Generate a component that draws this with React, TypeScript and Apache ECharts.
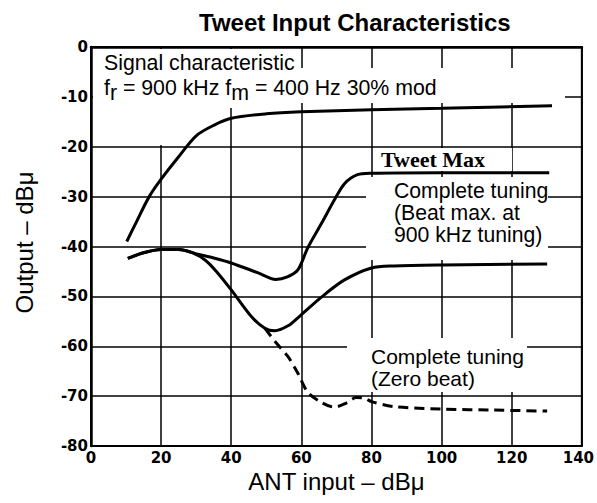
import React, { useEffect, useRef } from 'react';
import * as echarts from 'echarts';

// ---- data ----
const xTickValues = [0, 20, 40, 60, 80, 100, 120, 140];
const yTickValues = [0, -10, -20, -30, -40, -50, -60, -70, -80];

// Signal characteristic curve
const signalCurve: number[][] = [
  [10.2, -39], [13, -35], [16.6, -30], [20, -26.5], [25, -22], [30, -17.8],
  [35, -15.7], [40, -14.3], [50, -13.4], [60, -13], [80, -12.6], [100, -12.3], [131.5, -11.8],
];

// Complete tuning (Beat max. at 900 kHz tuning)
const beatMaxCurve: number[][] = [
  [10.5, -42.4], [14.7, -41.3], [20, -40.6], [25, -40.6], [30.8, -41.6], [35, -42.3],
  [40, -43.3], [47.7, -45.3], [52.7, -46.6], [56, -46.1], [59, -44.7], [61.8, -40.3],
  [65.8, -35.3], [69.4, -30.7], [72.3, -27.4], [76, -25.6], [80, -25.3], [100, -25.2], [130.7, -25.2],
];

// Complete tuning (Zero beat) - solid branch
const zeroBeatCurve: number[][] = [
  [10.5, -42.4], [14.7, -41.3], [20, -40.6], [25, -40.6], [29, -41.3], [32.7, -42.8],
  [36, -45.2], [40, -48.7], [45.8, -54.1], [49.6, -56.4], [52.4, -56.9], [56.2, -55.9],
  [59, -54.3], [65.8, -50.1], [72.3, -46.7], [80, -44.3], [86.4, -43.9], [100, -43.7], [130.1, -43.5],
];

// Complete tuning (Zero beat) - dashed branch
const zeroBeatDashed: number[][] = [
  [49.6, -56.4], [52.8, -59.3], [56.2, -62.1], [59, -65.4], [61.8, -69.2], [65.8, -71.3],
  [69.4, -72.2], [73.1, -71.3], [75.6, -70.3], [77.9, -70.4], [80, -71.1], [86.4, -72.1],
  [100.5, -72.6], [114.6, -72.8], [130.1, -73],
];

const SANS = '"Liberation Sans", Arial, Helvetica, sans-serif';
const SERIF = '"Liberation Serif", "Times New Roman", serif';
const TICKFONT = '"DejaVu Sans", sans-serif';

function maskRect(x: number, y: number, w: number, h: number) {
  return {
    type: 'rect',
    silent: true,
    z: 1,
    shape: { x, y, width: w, height: h },
    style: { fill: '#fff' },
  };
}

export default function App() {
  const ref = useRef<HTMLDivElement>(null);

  useEffect(() => {
    const chart = echarts.init(ref.current!, null, { renderer: 'svg' });

    const lineBase = {
      type: 'line',
      showSymbol: false,
      symbol: 'none',
      smooth: 0.3,
      z: 2,
      lineStyle: { color: '#000', width: 3 },
    };

    const option: any = {
      animation: false,
      backgroundColor: '#fff',
      title: {
        text: 'Tweet Input Characteristics',
        left: 199,
        top: 10,
        padding: 0,
        textStyle: { fontFamily: SANS, fontSize: 24, fontWeight: 'bold', color: '#000', lineHeight: 24 },
      },
      grid: {
        left: 91,
        right: 10,
        top: 47,
        bottom: 57,
        show: true,
        borderColor: '#000',
        borderWidth: 2,
        backgroundColor: 'transparent',
      },
      xAxis: {
        type: 'value',
        min: xTickValues[0],
        max: xTickValues[xTickValues.length - 1],
        interval: 20,
        name: 'ANT input – dBμ',
        nameLocation: 'middle',
        nameGap: 19,
        nameTextStyle: { fontFamily: SANS, fontSize: 24, color: '#000', lineHeight: 24 },
        axisLine: { show: true, lineStyle: { color: '#000', width: 2.5 } },
        axisTick: { show: false },
        splitLine: { show: true, lineStyle: { color: '#000', width: 1.5 } },
        axisLabel: {
          margin: 4,
          fontFamily: TICKFONT,
          fontWeight: 'bold',
          fontSize: 15,
          color: '#000',
          formatter: (v: number) => (v === 140 ? '{e|' + v + '}' : String(v)),
          rich: {
            e: { fontFamily: TICKFONT, fontWeight: 'bold', fontSize: 15, color: '#000', padding: [0, 7, 0, 0] },
          },
        },
      },
      yAxis: {
        type: 'value',
        min: yTickValues[yTickValues.length - 1],
        max: yTickValues[0],
        interval: 10,
        name: 'Output – dBμ',
        nameLocation: 'middle',
        nameGap: 55,
        nameTextStyle: { fontFamily: SANS, fontSize: 24, color: '#000', lineHeight: 24, padding: [0, 0, 0, 8] },
        axisLine: { show: true, lineStyle: { color: '#000', width: 2.5 } },
        axisTick: { show: false },
        splitLine: { show: true, lineStyle: { color: '#000', width: 1.5 } },
        axisLabel: {
          margin: 3,
          fontFamily: TICKFONT,
          fontWeight: 'bold',
          fontSize: 15,
          color: '#000',
        },
      },
      series: [
        { ...lineBase, name: 'Signal characteristic', data: signalCurve },
        { ...lineBase, name: 'Complete tuning (Beat max.)', data: beatMaxCurve },
        { ...lineBase, name: 'Complete tuning (Zero beat)', data: zeroBeatCurve },
        {
          ...lineBase,
          name: 'Complete tuning (Zero beat) dashed',
          data: zeroBeatDashed,
          lineStyle: { color: '#000', width: 3, type: [10, 6] },
        },
      ],
      graphic: {
        elements: [
          maskRect(93, 49, 204, 59),
          maskRect(297, 68, 268, 35),
          maskRect(155, 108, 14, 37),
          maskRect(379, 148, 133, 23),
          maskRect(366, 177, 182, 83),
          maskRect(347, 338, 180, 54),
          {
            type: 'text',
            z: 3,
            silent: true,
            style: {
              x: 104,
              y: 52,
              verticalAlign: 'top',
              text: '{n|Signal characteristic}\n{n|f}{s|r}{n| = 900 kHz f}{s|m}{n| = 400 Hz 30% mod}',
              fill: '#000',
              fontFamily: SANS,
              fontSize: 21.3,
              rich: {
                n: { fontFamily: SANS, fontSize: 21.3, lineHeight: 25, fill: '#000', verticalAlign: 'top' },
                s: { fontFamily: SANS, fontSize: 21.3, lineHeight: 25, fill: '#000', verticalAlign: 'top', padding: [5, 0, 0, 0] },
              },
            },
          },
          {
            type: 'text',
            z: 3,
            silent: true,
            style: {
              x: 381,
              y: 148.3,
              verticalAlign: 'top',
              text: 'Tweet Max',
              fill: '#000',
              fontFamily: SERIF,
              fontWeight: 'bold',
              fontSize: 22,
              lineHeight: 22,
            },
          },
          {
            type: 'text',
            z: 3,
            silent: true,
            style: {
              x: 394,
              y: 179,
              verticalAlign: 'top',
              text: 'Complete tuning\n(Beat max. at\n900 kHz tuning)',
              fill: '#000',
              fontFamily: SANS,
              fontSize: 21.2,
              lineHeight: 22,
            },
          },
          {
            type: 'text',
            z: 3,
            silent: true,
            style: {
              x: 371,
              y: 345.5,
              verticalAlign: 'top',
              text: 'Complete tuning\n(Zero beat)',
              fill: '#000',
              fontFamily: SANS,
              fontSize: 21,
              lineHeight: 22,
            },
          },
        ],
      },
    };

    chart.setOption(option);
    return () => chart.dispose();
  }, []);

  return (
    <div
      ref={ref}
      style={{ position: 'fixed', left: 0, top: 0, width: 597, height: 503, background: '#fff' }}
    />
  );
}
